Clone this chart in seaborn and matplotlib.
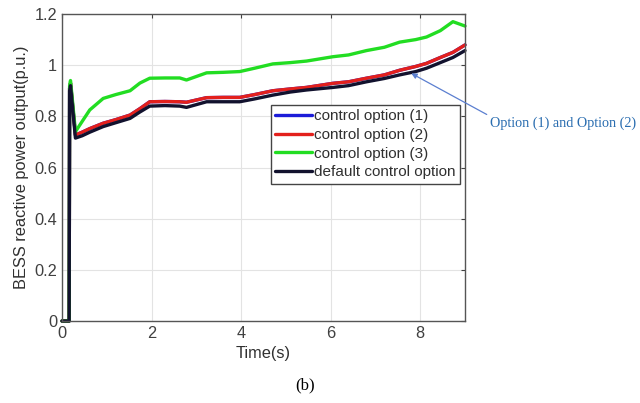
import matplotlib
matplotlib.use("Agg")
import matplotlib.pyplot as plt
import seaborn as sns
import pandas as pd

time_s = [0, 0.16, 0.17, 0.19, 0.3, 0.45, 0.62, 0.92, 1.2, 1.52, 1.74, 1.96, 2.3, 2.63, 2.78, 3.23, 3.6,
          3.97, 4.3, 4.71, 5.1, 5.46, 6.05, 6.4, 6.8, 7.2, 7.54, 7.9, 8.14, 8.45, 8.73, 9.0]
option3 = [0, 0, 0.92, 0.94, 0.74, 0.78, 0.825, 0.87, 0.885, 0.90, 0.93, 0.949, 0.95, 0.95, 0.942, 0.97, 0.972,
           0.975, 0.988, 1.005, 1.01, 1.016, 1.033, 1.04, 1.057, 1.07, 1.09, 1.10, 1.11, 1.135, 1.17, 1.153]
option2 = [0, 0, 0.91, 0.93, 0.727, 0.738, 0.752, 0.773, 0.787, 0.805, 0.83, 0.857, 0.858, 0.857, 0.855, 0.873, 0.874,
           0.874, 0.885, 0.90, 0.907, 0.913, 0.929, 0.935, 0.949, 0.962, 0.98, 0.995, 1.007, 1.03, 1.05, 1.079]
option1 = [0, 0, 0.91, 0.93, 0.727, 0.738, 0.752, 0.773, 0.787, 0.805, 0.83, 0.857, 0.858, 0.857, 0.855, 0.873, 0.874,
           0.874, 0.885, 0.90, 0.907, 0.913, 0.929, 0.935, 0.949, 0.962, 0.98, 0.995, 1.007, 1.03, 1.05, 1.079]
default = [0, 0, 0.90, 0.92, 0.715, 0.724, 0.738, 0.76, 0.775, 0.792, 0.817, 0.84, 0.842, 0.84, 0.835, 0.857, 0.857,
           0.857, 0.868, 0.883, 0.895, 0.903, 0.913, 0.92, 0.935, 0.948, 0.962, 0.975, 0.988, 1.01, 1.03, 1.057]

labels = ["control option (1)", "control option (2)", "control option (3)", "default control option"]
colors = ["#1c1cd8", "#e3201c", "#22dd22", "#12122e"]
xticks = [0, 2, 4, 6, 8]
yticks = [0, 0.2, 0.4, 0.6, 0.8, 1.0, 1.2]
ytick_labels = ["0", "0.2", "0.4", "0.6", "0.8", "1", "1.2"]

sns.set_style("white")
plt.rcParams["font.family"] = ["Liberation Sans", "DejaVu Sans"]

fig = plt.figure(figsize=(6.4, 4.03), dpi=100)
ax = fig.add_axes([62 / 640, 82 / 403, 403 / 640, 307 / 403])

series = [option1, option2, option3, default]
for vals, lab, col in zip(series, labels, colors):
    df = pd.DataFrame({"t": time_s, "v": vals})
    sns.lineplot(data=df, x="t", y="v", ax=ax, color=col, linewidth=2.4, label=lab)
for ln in ax.get_lines():
    ln.set_clip_on(False)
ax.set_xlim(0, 9)
ax.set_ylim(0, 1.2)
ax.set_xticks(xticks)
ax.set_yticks(yticks)
ax.set_yticklabels(ytick_labels)
ax.tick_params(direction="in", top=True, right=True, labelsize=11.8, colors="#404040", length=3)
ax.grid(True, color="#e3e3e3", linewidth=0.8)
for sp in ax.spines.values():
    sp.set_color("#555555")
    sp.set_linewidth(1.0)
ax.set_xlabel("Time(s)", fontsize=11.8, color="#303030", labelpad=4)
ax.set_ylabel("BESS reactive power output(p.u.)", fontsize=11.8, color="#303030", labelpad=4)

leg = ax.legend(loc="upper right", bbox_to_anchor=(0.988, 0.704), fontsize=11, frameon=True,
                fancybox=False, edgecolor="#444444", framealpha=1, borderaxespad=0,
                handlelength=2.4, handletextpad=0.15, labelspacing=0.3, borderpad=0.3)
for t in leg.get_texts():
    t.set_color("#303030")

ax.annotate("Option (1) and Option (2)", xy=(7.8, 0.968), xycoords="data",
            xytext=(490, 280), textcoords="figure pixels", ha="left", va="center",
            fontsize=10.2, color="#2a6db0", family="Liberation Serif", annotation_clip=False,
            arrowprops=dict(arrowstyle="-|>", color="#5b7fd0", lw=0.9, mutation_scale=8,
                            shrinkA=0, shrinkB=0, relpos=(0.0, 1.0)))

fig.text(305 / 640, 1 - 385 / 403, "(b)", ha="center", va="center", fontsize=12,
         family="Liberation Serif", color="black")

fig.savefig("out.png", dpi=100)
